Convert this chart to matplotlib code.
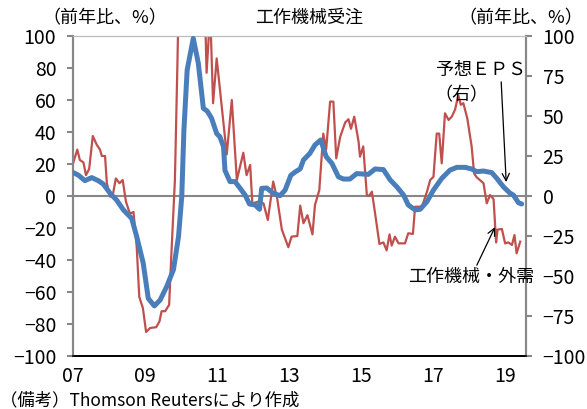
import matplotlib
matplotlib.use('Agg')
import matplotlib.pyplot as plt

plt.rcParams['font.family'] = ['Noto Sans CJK JP', 'DejaVu Sans']

# machine tool orders, foreign demand (left axis, % y/y)
order_years = [2007.01, 2007.12, 2007.19, 2007.29, 2007.36, 2007.45, 2007.55, 2007.66, 2007.75, 2007.80,
               2007.89, 2007.94, 2008.03, 2008.10, 2008.19, 2008.29, 2008.38, 2008.47, 2008.58, 2008.68,
               2008.77, 2008.84, 2008.94, 2009.03, 2009.14, 2009.31, 2009.40, 2009.46, 2009.56, 2009.67,
               2009.72, 2009.83, 2009.90, 2009.94, 2010.00, 2010.10, 2010.25, 2010.40, 2010.55, 2010.65,
               2010.71, 2010.81, 2010.89, 2010.99, 2011.27, 2011.41, 2011.55, 2011.73, 2011.82, 2011.92,
               2011.98, 2012.15, 2012.29, 2012.41, 2012.56, 2012.67, 2012.80, 2012.98, 2013.07, 2013.23,
               2013.31, 2013.40, 2013.51, 2013.65, 2013.72, 2013.84, 2013.95, 2014.03, 2014.14, 2014.23,
               2014.31, 2014.42, 2014.56, 2014.65, 2014.72, 2014.81, 2014.93, 2014.97, 2015.06, 2015.16,
               2015.22, 2015.30, 2015.39, 2015.51, 2015.62, 2015.71, 2015.79, 2015.85, 2015.94, 2016.04,
               2016.22, 2016.31, 2016.44, 2016.50, 2016.69, 2016.83, 2016.92, 2017.01, 2017.10, 2017.17,
               2017.24, 2017.33, 2017.43, 2017.52, 2017.61, 2017.70, 2017.77, 2017.84, 2017.95, 2018.07,
               2018.14, 2018.21, 2018.40, 2018.49, 2018.58, 2018.68, 2018.75, 2018.79, 2018.91, 2019.00,
               2019.09, 2019.19, 2019.26, 2019.32, 2019.42]
order_vals = [21, 29, 22.5, 21, 13, 17, 37.5, 32, 29, 25,
              25, 8, -0.4, 0, 11, 8, 10, -3.5, -11, -10,
              -32, -63, -70, -85, -82.5, -82, -78.5, -72, -72, -68,
              -42, 10, 83, 130, 190, 260, 240, 210, 170, 130,
              77, 115, 58, 86, 26, 60, 10, 27, 13, 19.4,
              -4.6, -3.5, -4.6, -15, 9, -1.5, -21, -32, -25.4, -25,
              -6, -17, -12, -24, -5.6, 3.7, 39, 29, 59, 59,
              23.5, 37, 46, 48, 42, 49.6, 34, 24.6, 31, 0.6,
              0, 2.7, -11, -30, -29, -34, -24, -31, -25.4, -29.6,
              -29.6, -23.3, -23.7, -6.7, -6.7, 2.7, 10, 12, 39, 39,
              20.4, 51.7, 47.5, 49.6, 54, 63, 57, 58, 48.5, 31,
              14, 11.7, 8, -4.6, 0.6, -2, -29, -21, -20.6, -29.6,
              -29, -30.6, -24.4, -35.8, -28.5]

# forecast EPS (right axis, % y/y)
eps_years = [2007.01, 2007.15, 2007.33, 2007.52, 2007.70, 2007.84, 2008.03, 2008.21, 2008.40, 2008.63,
             2008.77, 2008.95, 2009.09, 2009.26, 2009.42, 2009.60, 2009.79, 2009.93, 2010.02, 2010.08,
             2010.17, 2010.34, 2010.48, 2010.62, 2010.73, 2010.85, 2010.99, 2011.08, 2011.18, 2011.22,
             2011.36, 2011.50, 2011.64, 2011.78, 2011.90, 2012.06, 2012.18, 2012.24, 2012.38, 2012.56,
             2012.75, 2012.89, 2013.05, 2013.17, 2013.31, 2013.40, 2013.58, 2013.72, 2013.88, 2014.03,
             2014.19, 2014.37, 2014.51, 2014.69, 2014.88, 2015.20, 2015.39, 2015.62, 2015.81, 2015.99,
             2016.18, 2016.31, 2016.50, 2016.64, 2016.83, 2017.01, 2017.24, 2017.47, 2017.66, 2017.89,
             2018.07, 2018.21, 2018.40, 2018.63, 2018.77, 2018.95, 2019.14, 2019.23, 2019.37, 2019.46]
eps_vals = [14.6, 13, 9.6, 11.5, 9.6, 7.5, 1.7, -2.5, -8.7, -14,
            -25.4, -42, -64, -68.7, -65, -56.7, -46, -25.4, -0.4, 41,
            78.7, 98.5, 83, 54.8, 53, 48.5, 39, 37, 30.8, 16,
            9, 9, 4.8, 0.6, -5, -5.6, -8.3, 4.8, 5, 1.7,
            0.2, 3.7, 13, 15, 17, 22.5, 26.7, 31.9, 35, 24.6,
            20.4, 12, 10.6, 10.6, 14, 13.5, 16.9, 16.5, 10, 5.8,
            0.6, -5.6, -8.7, -8.3, -3.5, 3.7, 11, 16.2, 17.9, 17.9,
            16.9, 15.2, 15.6, 14.6, 11, 5.8, 1.7, 0.6, -4.2, -5]

year_ticks = [2007, 2009, 2011, 2013, 2015, 2017, 2019]
year_labels = ['07', '09', '11', '13', '15', '17', '19']
left_ticks = [-100, -80, -60, -40, -20, 0, 20, 40, 60, 80, 100]
right_ticks = [-100, -75, -50, -25, 0, 25, 50, 75, 100]

red = '#C0504D'
blue = '#4A7EBB'
gray = '#878787'

fig = plt.figure(figsize=(5.87, 4.09), dpi=100)
ax = fig.add_axes([73/587, 1-356/409, 453/587, 320/409])

ax.axhline(0, color=gray, lw=1.5, zorder=1)
ax.plot(order_years, order_vals, color=red, lw=1.6, zorder=2)
ax.set_xlim(2007, 2019.58)
ax.set_ylim(-100, 100)
ax.set_yticks(left_ticks)
ax.set_xticks(year_ticks)
ax.set_xticklabels(year_labels)

ax2 = ax.twinx()
ax2.plot(eps_years, eps_vals, color=blue, lw=3.6, solid_capstyle='round', zorder=3)
ax2.set_ylim(-100, 100)
ax2.set_yticks(right_ticks)

for a in (ax, ax2):
    a.spines['left'].set_color(gray)
    a.spines['left'].set_linewidth(1.5)
    a.spines['right'].set_color(gray)
    a.spines['right'].set_linewidth(1.5)
    a.spines['top'].set_color('#BBBBBB')
    a.spines['top'].set_linewidth(0.8)
    a.spines['bottom'].set_color('black')
    a.spines['bottom'].set_linewidth(1.2)

ax.tick_params(axis='y', labelsize=14, length=4, width=1.5, color=gray, pad=8)
ax.tick_params(axis='x', labelsize=14, length=0, pad=7)
ax2.tick_params(axis='y', labelsize=14, length=4, width=1.5, color=gray, pad=8)

ax2.annotate('予想ＥＰＳ', xy=(2019.03, 8.7), xytext=(2018.33, 78.7),
             ha='center', va='center', fontsize=13,
             arrowprops=dict(arrowstyle='->', color='black', lw=0.9,
                             shrinkA=0, shrinkB=0, relpos=(0.72, 0.3)))
ax2.text(2017.8, 63, '（右）', ha='center', va='center', fontsize=13)
ax2.annotate('工作機械・外需', xy=(2018.72, -19.4), xytext=(2018.06, -50.6),
             ha='center', va='center', fontsize=13, annotation_clip=False,
             arrowprops=dict(arrowstyle='->', color='black', lw=0.9,
                             shrinkA=0, shrinkB=0, relpos=(0.52, 0.8)))

fig.text(42/587, 1-18/409, '（前年比、%）', ha='left', va='center', fontsize=13)
fig.text(458/587, 1-18/409, '（前年比、%）', ha='left', va='center', fontsize=13)
fig.text(309/587, 1-18/409, '工作機械受注', ha='center', va='center', fontsize=13)
fig.text(0.0, 1-400/409, '（備考）Thomson Reutersにより作成', ha='left', va='center', fontsize=12.5)

fig.savefig('out.png', dpi=100)
